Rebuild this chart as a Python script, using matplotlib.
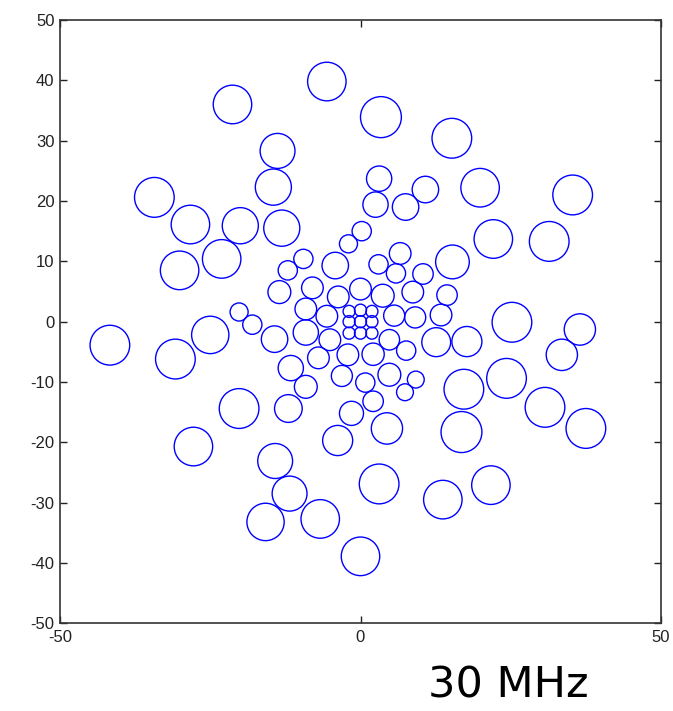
import matplotlib
matplotlib.use("Agg")
import matplotlib.pyplot as plt
from matplotlib.patches import Circle

plt.rcParams["axes.unicode_minus"] = False

# station positions (x, y) and circle radius
xs = [0.0, 0.0, 0.0, -1.9, 1.9, -1.9, 1.9, -1.9, 1.9,
      -5.6, -5.1, -2.1, 2.1, 4.8, 5.6, 3.7, 0.0, -3.7,
      -9.1, -9.1, -7.0, -3.1, 0.8, 4.8, 7.6, 9.1, 8.7, 5.9, 3.0, -4.2, -8.0,
      -13.5, -12.1, -9.5, -2.0, 0.2, 6.6, 10.4, 14.4, 13.4, 12.6, 9.2, 7.4,
      2.1, -1.5, -11.6, -9.1, -14.3, -18.0, -20.2,
      -12.0, -3.8, 4.4, 17.7, 15.3, 2.5, 3.1, 7.5, 10.8,
      -14.5, -13.8, -13.1, -20.0, -28.3, -34.3, -30.1, -23.1, -21.3, -5.6,
      3.4, 15.2, 19.9, 35.3, 22.1, 31.4, 25.2, 36.5, 33.5, 17.2, 24.3,
      30.7, 37.5, 16.8, 3.1, 13.7, 21.7, 0.0, -41.7, -30.8, -25.0,
      -20.2, -27.8, -14.2, -11.8, -15.8, -6.7]
ys = [0.0, 1.9, -1.9, 0.0, 0.0, 1.7, 1.7, -1.9, -1.9,
      0.9, -3.0, -5.5, -5.4, -3.0, 1.0, 4.3, 5.4, 4.1,
      2.1, -1.8, -6.0, -9.0, -10.1, -8.8, -4.8, 0.7, 4.9, 8.0, 9.5, 9.3, 5.6,
      4.9, 8.5, 10.4, 12.9, 15.0, 11.3, 7.9, 4.4, 1.1, -3.4, -9.6, -11.7,
      -13.2, -15.2, -7.7, -10.8, -2.9, -0.5, 1.6,
      -14.4, -19.7, -17.7, -3.3, 9.9, 19.4, 23.7, 19.0, 21.9,
      22.3, 28.3, 15.5, 15.9, 16.1, 20.6, 8.5, 10.4, 36.0, 39.8,
      33.9, 30.4, 22.2, 21.0, 13.7, 13.3, -0.1, -1.3, -5.5, -11.2, -9.4,
      -14.2, -17.7, -18.3, -26.9, -29.5, -27.1, -38.9, -3.9, -6.2, -2.2,
      -14.4, -20.7, -23.1, -28.5, -33.2, -32.7]
rs = [1.0, 1.0, 1.0, 1.0, 1.0, 1.0, 1.0, 1.0, 1.0,
      1.8, 1.8, 1.8, 1.85, 1.7, 1.75, 1.9, 1.8, 1.8,
      1.8, 2.1, 1.8, 1.75, 1.6, 1.9, 1.6, 1.75, 1.8, 1.6, 1.6, 2.2, 1.8,
      1.9, 1.6, 1.6, 1.5, 1.6, 1.8, 1.7, 1.7, 1.8, 2.4, 1.4, 1.4,
      1.7, 2.0, 2.1, 1.9, 2.2, 1.6, 1.5,
      2.3, 2.5, 2.6, 2.5, 2.8, 2.1, 2.1, 2.2, 2.2,
      3.0, 2.9, 3.0, 3.0, 3.2, 3.3, 3.2, 3.2, 3.2, 3.2,
      3.4, 3.3, 3.2, 3.3, 3.2, 3.3, 3.3, 2.6, 2.6, 3.3, 3.3,
      3.3, 3.3, 3.4, 3.3, 3.2, 3.2, 3.2, 3.3, 3.3, 3.1,
      3.3, 3.2, 2.9, 2.9, 3.1, 3.2]

ticks = [-50, -40, -30, -20, -10, 0, 10, 20, 30, 40, 50]
xticks = [-50, 0, 50]

fig = plt.figure(figsize=(6.73, 7.11), dpi=100)
ax = fig.add_axes([60 / 673, 87.7 / 711, 601 / 673, 603.3 / 711])

for x, y, r in zip(xs, ys, rs):
    ax.add_patch(Circle((x, y), r, fill=False, edgecolor="#0000ff", linewidth=1.0))

ax.set_xlim(-50, 50)
ax.set_ylim(-50, 50)
ax.set_xticks(xticks)
ax.set_yticks(ticks)
ax.tick_params(direction="in", length=5, width=1, top=True, right=True,
               labelsize=12, colors="#222222")
ax.tick_params(axis="x", pad=5)
ax.tick_params(axis="y", pad=4)
for lab in ax.get_xticklabels() + ax.get_yticklabels():
    lab.set_family("Liberation Sans")
for s in ax.spines.values():
    s.set_linewidth(1.2)
    s.set_color("#333333")

fig.text(508 / 673, 1 - 685 / 711, "30 MHz", fontsize=31, family="DejaVu Sans",
         ha="center", va="center", color="black")

fig.savefig("out.png", dpi=100)
